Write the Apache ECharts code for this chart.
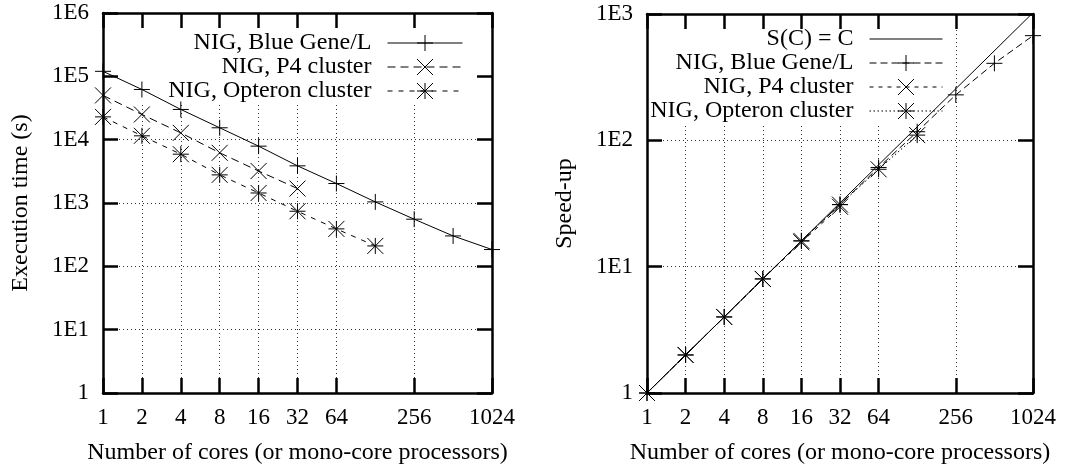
<!DOCTYPE html>
<html><head><meta charset="utf-8">
<script src="https://cdn.jsdelivr.net/npm/echarts@6/dist/echarts.min.js"></script>
<style>html,body{margin:0;padding:0;background:#fff}#c{width:1069px;height:466px}</style>
</head><body><div id="c"></div>
<script>
// ---- data ----
const cores = [1, 2, 4, 8, 16, 32, 64, 128, 256, 512, 1024];
const timeBlueGene = [120000, 62000, 30000, 15400, 7900, 3860, 2030, 1040, 555, 302, 184];
const timeP4 = [50000, 25000, 12800, 6200, 3200, 1690];
const timeOpteron = [22900, 11500, 5900, 2780, 1440, 741, 390, 210];
const idealCores = [1, 1024];
const speedIdeal = [1, 1024];
const speedBlueGene = [1, 2, 4, 8, 16, 31, 61, 117, 229, 407, 674];
const speedP4 = [1, 2, 4, 8, 15.6, 29.8];
const speedOpteron = [1, 2, 4, 8, 16, 31, 59, 110];
const xTickValues = [1, 2, 4, 8, 16, 32, 64, 256, 1024];
const timeTickLabels = ['1', '1E1', '1E2', '1E3', '1E4', '1E5', '1E6'];
const speedTickLabels = ['1', '1E1', '1E2', '1E3'];
const timeNames = ['NIG, Blue Gene/L', 'NIG, P4 cluster', 'NIG, Opteron cluster'];
const speedNames = ['S(C) = C', 'NIG, Blue Gene/L', 'NIG, P4 cluster', 'NIG, Opteron cluster'];
const xName = 'Number of cores (or mono-core processors)';
const yNameTime = 'Execution time (s)';
const yNameSpeed = 'Speed-up';

// ---- styles ----
const F = 'Liberation Serif';
const SYM_PLUS = 'path://M0,5L10,5M5,0L5,10';
const SYM_CROSS = 'path://M0,0L10,10M10,0L0,10';
const SYM_STAR = 'path://M0,5L10,5M5,0L5,10M0,0L10,10M10,0L0,10';
const BORDER = 2.5;

function zip(xs, ys) { return ys.map((y, i) => [xs[i], y]); }

function xAxes(gi) {
  const base = {gridIndex: gi, type: 'log', logBase: 2, min: 1, max: 1024};
  const line = {show: true, onZero: false, lineStyle: {color: '#000', width: BORDER}};
  const tick = {show: true, inside: true, length: 15, customValues: xTickValues, lineStyle: {color: '#000', width: BORDER}};
  return [
    Object.assign({}, base, {position: 'bottom', z: 5, axisLine: line, axisTick: tick,
      axisLabel: {show: true, customValues: xTickValues, showMinLabel: true, showMaxLabel: true,
        formatter: v => String(v), margin: 13, color: '#000', fontFamily: F, fontSize: 23},
      splitLine: {show: false}, minorTick: {show: false}, minorSplitLine: {show: false},
      name: xName, nameLocation: 'middle', nameGap: 48,
      nameTextStyle: {color: '#000', fontFamily: F, fontSize: 24, lineHeight: 24}}),
    Object.assign({}, base, {position: 'top', z: 5, axisLine: line, axisTick: tick,
      axisLabel: {show: false}, splitLine: {show: false}}),
    Object.assign({}, base, {position: 'bottom', z: 0, axisLine: {show: false},
      axisTick: {show: false, customValues: xTickValues}, axisLabel: {show: false},
      splitLine: {show: true, lineStyle: {color: '#333', width: 1, type: [1, 3]}}})
  ];
}

function yAxes(gi, max, labels, name) {
  const base = {gridIndex: gi, type: 'log', logBase: 10, min: 1, max: max};
  const line = {show: true, onZero: false, lineStyle: {color: '#000', width: BORDER}};
  const tick = {show: true, inside: true, length: 15, lineStyle: {color: '#000', width: BORDER}};
  return [
    Object.assign({}, base, {position: 'left', z: 5, axisLine: line, axisTick: tick,
      axisLabel: {show: true, showMinLabel: true, showMaxLabel: true,
        formatter: v => labels[Math.round(Math.log10(v))], margin: 14, color: '#000', fontFamily: F, fontSize: 23},
      splitLine: {show: false}, minorTick: {show: false},
      name: name, nameLocation: 'middle', nameGap: 70,
      nameTextStyle: {color: '#000', fontFamily: F, fontSize: 24, lineHeight: 24}}),
    Object.assign({}, base, {position: 'right', z: 5, axisLine: line, axisTick: tick,
      axisLabel: {show: false}, splitLine: {show: false}}),
    Object.assign({}, base, {position: 'left', z: 0, axisLine: {show: false},
      axisTick: {show: false}, axisLabel: {show: false},
      splitLine: {show: true, lineStyle: {color: '#333', width: 1, type: [1, 3]}}})
  ];
}

function series(prefix, name, xs, ys, gi, symbol, dash) {
  return {
    type: 'line', name: prefix + '|' + name, xAxisIndex: gi * 3, yAxisIndex: gi * 3,
    data: zip(xs, ys), color: '#000',
    symbol: symbol || 'circle', showSymbol: !!symbol, symbolSize: 16,
    itemStyle: {color: '#000', borderColor: '#000', borderWidth: 1},
    lineStyle: {color: '#000', width: 1, type: dash},
    emphasis: {disabled: true}, silent: true, z: 2
  };
}

const legendCommon = {
  orient: 'vertical', align: 'right', itemWidth: 75, itemHeight: 20, itemGap: 0,
  backgroundColor: '#fff', z: 1, selectedMode: false, top: 14,
  textStyle: {fontFamily: F, fontSize: 24, lineHeight: 24, color: '#000', padding: [0, 11, 0, 0]},
  itemStyle: {borderWidth: 1, borderColor: '#000'},
  lineStyle: {width: 1},
  formatter: n => n.split('|')[1]
};

const option = {
  animation: false,
  backgroundColor: '#fff',
  grid: [
    {left: 103, top: 13, width: 389, height: 380, outerBoundsMode: 'none', containLabel: false},
    {left: 647, top: 14, width: 386, height: 379, outerBoundsMode: 'none', containLabel: false}
  ],
  xAxis: xAxes(0).concat(xAxes(1)),
  yAxis: yAxes(0, 1e6, timeTickLabels, yNameTime).concat(yAxes(1, 1e3, speedTickLabels, yNameSpeed)),
  legend: [
    Object.assign({}, legendCommon, {right: 591, padding: [17, 15, 0, 75],
      data: timeNames.map(n => ({name: 't|' + n}))}),
    Object.assign({}, legendCommon, {right: 118, itemWidth: 73, padding: [13, 8, 2, 10],
      data: speedNames.map((n, i) => i === 0 ? {name: 's|' + n, itemStyle: {opacity: 0}} : {name: 's|' + n})})
  ],
  series: [
    series('t', timeNames[0], cores, timeBlueGene, 0, SYM_PLUS, 'solid'),
    series('t', timeNames[1], cores, timeP4, 0, SYM_CROSS, [8, 5]),
    series('t', timeNames[2], cores, timeOpteron, 0, SYM_STAR, [5, 6]),
    series('s', speedNames[0], idealCores, speedIdeal, 1, null, 'solid'),
    series('s', speedNames[1], cores, speedBlueGene, 1, SYM_PLUS, [7, 4]),
    series('s', speedNames[2], cores, speedP4, 1, SYM_CROSS, [4, 5]),
    series('s', speedNames[3], cores, speedOpteron, 1, SYM_STAR, [1.5, 2.5])
  ]
};

const chart = echarts.init(document.getElementById('c'), null, {renderer: 'canvas'});
chart.setOption(option);
</script></body></html>
